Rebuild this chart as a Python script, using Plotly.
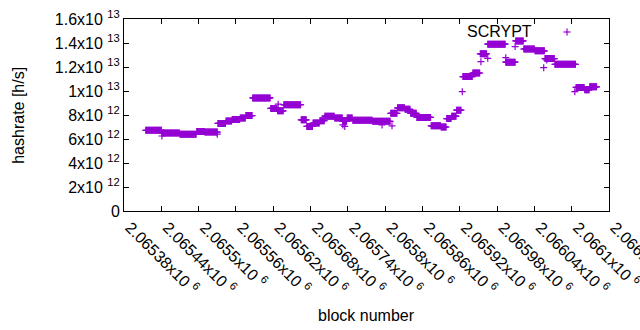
import numpy as np
import plotly.graph_objects as go

# ---- data ----
# plateaus: consecutive blocks sharing one hashrate estimate
seg_start = [2065415, 2065441, 2065470, 2065497, 2065510, 2065531, 2065544, 2065554,
             2065567, 2065576, 2065587, 2065616, 2065627, 2065637, 2065665, 2065674,
             2065684, 2065695, 2065703, 2065719, 2065732, 2065739, 2065748, 2065780,
             2065809, 2065820, 2065832, 2065841, 2065851, 2065874, 2065890, 2065899,
             2065907, 2065915, 2065925, 2065941, 2065953, 2065965, 2065994, 2066010,
             2066023, 2066041, 2066057, 2066073, 2066107, 2066121, 2066129]
seg_end = [2065441, 2065470, 2065497, 2065510, 2065531, 2065544, 2065554, 2065567,
           2065576, 2065587, 2065616, 2065627, 2065637, 2065665, 2065674, 2065684,
           2065695, 2065703, 2065719, 2065732, 2065739, 2065748, 2065780, 2065809,
           2065820, 2065832, 2065841, 2065851, 2065874, 2065890, 2065899, 2065907,
           2065915, 2065923, 2065941, 2065953, 2065964, 2065994, 2066010, 2066023,
           2066041, 2066057, 2066073, 2066107, 2066121, 2066129, 2066141]
seg_hashrate = [6.72e12, 6.50e12, 6.40e12, 6.62e12, 6.58e12, 7.30e12, 7.50e12, 7.62e12,
                7.75e12, 7.95e12, 9.42e12, 8.55e12, 8.35e12, 8.86e12, 7.60e12, 7.05e12,
                7.33e12, 7.53e12, 7.90e12, 7.75e12, 7.47e12, 7.75e12, 7.57e12, 7.47e12,
                8.14e12, 8.60e12, 8.47e12, 8.14e12, 7.80e12, 7.10e12, 7.00e12, 7.70e12,
                7.90e12, 8.40e12, 11.2e12, 11.5e12, 13.1e12, 13.9e12, 12.4e12, 14.17e12,
                13.5e12, 13.35e12, 12.7e12, 12.22e12, 10.3e12, 10.1e12, 10.35e12]

# isolated points
extra_block = [2065441, 2065530, 2065628, 2065732, 2065735, 2065795, 2065811, 2065924,
               2065954, 2065965, 2065994, 2066009, 2066055, 2066060, 2066105]
extra_hashrate = [6.25e12, 6.40e12, 8.90e12, 7.17e12, 7.05e12, 7.17e12, 7.10e12, 9.94e12,
                  12.44e12, 12.72e12, 12.78e12, 13.7e12, 11.94e12, 12.58e12, 9.94e12]

x_tick_vals = [2065380, 2065440, 2065500, 2065560, 2065620, 2065680, 2065740,
               2065800, 2065860, 2065920, 2065980, 2066040, 2066100, 2066160]
x_tick_text = ["2.06538x10 <sup>6</sup>", "2.06544x10 <sup>6</sup>", "2.0655x10 <sup>6</sup>",
               "2.06556x10 <sup>6</sup>", "2.06562x10 <sup>6</sup>", "2.06568x10 <sup>6</sup>",
               "2.06574x10 <sup>6</sup>", "2.0658x10 <sup>6</sup>", "2.06586x10 <sup>6</sup>",
               "2.06592x10 <sup>6</sup>", "2.06598x10 <sup>6</sup>", "2.06604x10 <sup>6</sup>",
               "2.0661x10 <sup>6</sup>", "2.06616x10 <sup>6</sup>"]
y_tick_vals = [0, 2e12, 4e12, 6e12, 8e12, 1e13, 1.2e13, 1.4e13, 1.6e13]
y_tick_text = ["0", "2x10 <sup>12</sup>", "4x10 <sup>12</sup>", "6x10 <sup>12</sup>",
               "8x10 <sup>12</sup>", "1x10 <sup>13</sup>", "1.2x10 <sup>13</sup>",
               "1.4x10 <sup>13</sup>", "1.6x10 <sup>13</sup>"]

# ---- build series ----
blocks = []
rates = []
for s, e, v in zip(seg_start, seg_end, seg_hashrate):
    b = np.arange(s, e)
    blocks.append(b)
    rates.append(np.full(len(b), v))
blocks = np.concatenate(blocks + [np.array(extra_block)])
rates = np.concatenate(rates + [np.array(extra_hashrate)])

COLOR = "#9400D3"
FONT = "Liberation Sans, Arial, sans-serif"

fig = go.Figure()
fig.add_trace(go.Scatter(
    x=blocks, y=rates, mode="markers", name="SCRYPT",
    marker=dict(symbol="cross-thin", size=5, color=COLOR,
                line=dict(color=COLOR, width=1.2)),
    showlegend=False,
))

axis_common = dict(showline=True, linecolor="black", linewidth=1, mirror="allticks",
                   ticks="inside", ticklen=5, tickcolor="black", showgrid=False,
                   zeroline=False, automargin=False, ticklabeloverflow="allow",
                   tickfont=dict(family=FONT, size=16, color="black"))

fig.update_layout(
    width=640, height=330,
    margin=dict(l=124, r=31, t=19, b=119, autoexpand=False),
    paper_bgcolor="white", plot_bgcolor="white",
    font=dict(family=FONT, size=16, color="black"),
    xaxis=dict(range=[2065380, 2066160], tickmode="array", tickvals=x_tick_vals,
               ticktext=x_tick_text, tickangle=45, ticklabelshift=6, **axis_common),
    yaxis=dict(range=[0, 1.6e13], tickmode="array", tickvals=y_tick_vals,
               ticktext=y_tick_text, **axis_common),
    showlegend=False,
)

# axis titles
fig.add_annotation(text="hashrate [h/s]", xref="paper", yref="paper", x=-0.219, y=0.5,
                   textangle=-90, showarrow=False, xanchor="center", yanchor="middle",
                   font=dict(family=FONT, size=16, color="black"))
fig.add_annotation(text="block number", xref="paper", yref="paper", x=0.5, y=-0.545,
                   showarrow=False, xanchor="center", yanchor="middle",
                   font=dict(family=FONT, size=16, color="black"))

# key
fig.add_annotation(text="SCRYPT", xref="paper", yref="paper", x=0.845, y=0.9375,
                   showarrow=False, xanchor="right", yanchor="middle",
                   font=dict(family=FONT, size=16, color="black"))
kx, ky = (567 - 124) / 485, (211 - 32) / 192
dx, dy = 3.5 / 485, 3.5 / 192
fig.add_shape(type="line", xref="paper", yref="paper", x0=kx - dx, x1=kx + dx, y0=ky, y1=ky,
              line=dict(color=COLOR, width=1.2))
fig.add_shape(type="line", xref="paper", yref="paper", x0=kx, x1=kx, y0=ky - dy, y1=ky + dy,
              line=dict(color=COLOR, width=1.2))

fig.write_html("out.html", config={"displayModeBar": False},
               post_script="document.body.style.margin='0';")
